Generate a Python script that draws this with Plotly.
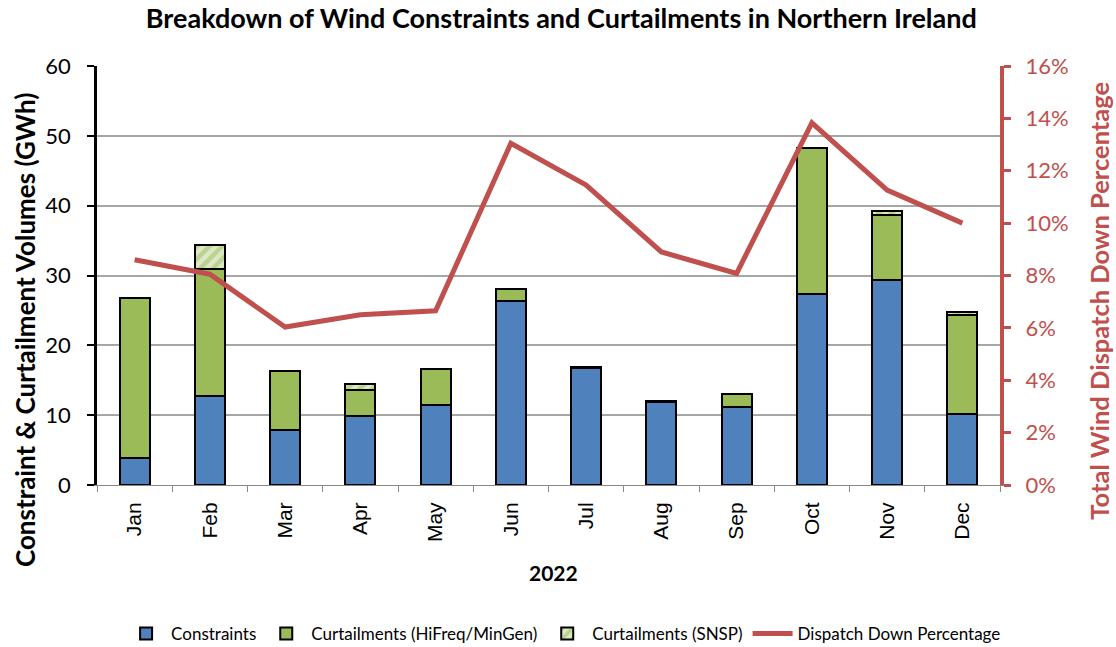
import plotly.graph_objects as go

months = ["Jan", "Feb", "Mar", "Apr", "May", "Jun", "Jul", "Aug", "Sep", "Oct", "Nov", "Dec"]
constraints = [3.9, 12.7, 7.9, 9.9, 11.4, 26.3, 16.7, 11.9, 11.1, 27.4, 29.3, 10.2]
curtail_hifreq = [22.9, 18.2, 8.4, 3.7, 5.2, 1.8, 0.2, 0.2, 1.9, 20.9, 9.3, 14.2]
curtail_snsp = [0.0, 3.5, 0.0, 0.9, 0.0, 0.0, 0.0, 0.0, 0.0, 0.0, 0.7, 0.4]
dispatch_down_pct = [8.6, 8.05, 6.03, 6.5, 6.65, 13.05, 11.45, 8.9, 8.08, 13.83, 11.26, 10.0]

BLUE = "#4F81BD"
GREEN = "#9BBB59"
RED = "#C0504D"
FONT = "Lato"
ARIAL = "Liberation Sans"

fig = go.Figure()
fig.add_trace(go.Bar(
    x=months, y=constraints, name="Constraints",
    marker=dict(color=BLUE, line=dict(color="black", width=2)),
    width=0.4,
))
fig.add_trace(go.Bar(
    x=months, y=curtail_hifreq, name="Curtailments (HiFreq/MinGen)",
    marker=dict(color=GREEN, line=dict(color="black", width=2)),
    width=0.4,
))
fig.add_trace(go.Bar(
    x=months, y=curtail_snsp, name="Curtailments (SNSP)",
    marker=dict(
        color="#DDE9C6",
        line=dict(color="black", width=2),
        pattern=dict(shape="/", fgcolor=GREEN, bgcolor="#DDE9C6", size=9, solidity=0.5),
    ),
    width=0.4,
))
fig.add_trace(go.Scatter(
    x=months, y=dispatch_down_pct, name="Dispatch Down Percentage",
    mode="lines", line=dict(color=RED, width=5), yaxis="y2",
))

# axis titles placed as annotations so they sit where the layout needs them
fig.add_annotation(
    text="<b>Constraint & Curtailment Volumes (GWh)</b>", textangle=-90,
    xref="paper", yref="paper", x=-0.0797, y=0.37, showarrow=False,
    xanchor="center", yanchor="middle", font=dict(size=26, family=FONT, color="black"),
)
fig.add_annotation(
    text="<b>Total Wind Dispatch Down Percentage</b>", textangle=-90,
    xref="paper", yref="paper", x=(1099 - 97) / 903, y=0.44, showarrow=False,
    xanchor="center", yanchor="middle", font=dict(size=25.5, family=FONT, color=RED),
)
fig.add_annotation(
    text="<b>2022</b>",
    xref="paper", yref="paper", x=0.505, y=-0.21, showarrow=False,
    xanchor="center", yanchor="middle", font=dict(size=21, family=FONT, color="black"),
)

fig.update_layout(
    width=1116, height=647,
    barmode="stack",
    paper_bgcolor="white", plot_bgcolor="white",
    margin=dict(l=97, r=116, t=66, b=162),
    font=dict(family=FONT, color="black"),
    title=dict(
        text="<b>Breakdown of Wind Constraints and Curtailments in Northern Ireland</b>",
        x=0.503, xanchor="center", y=0.972, yanchor="middle",
        font=dict(size=27, family=FONT, color="black"),
    ),
    xaxis=dict(
        tickangle=-90, tickfont=dict(size=21, family=ARIAL),
        ticks="outside", tickson="boundaries", ticklen=6, tickcolor="#888888",
        ticklabelstandoff=8,
        showline=True, linecolor="#888888", linewidth=1,
    ),
    yaxis=dict(
        range=[0, 60], dtick=10,
        tickfont=dict(size=22, family=FONT),
        showgrid=True, gridcolor="#A6A6A6", gridwidth=1.5,
        showline=True, linecolor="black", linewidth=2.5,
        ticks="outside", ticklen=7, tickcolor="black", tickwidth=2,
        ticklabelstandoff=12,
        zeroline=False,
    ),
    yaxis2=dict(
        range=[0, 16], dtick=2, overlaying="y", side="right",
        ticksuffix="%", tickfont=dict(size=22, family=FONT, color=RED),
        showgrid=False, zeroline=False,
        showline=True, linecolor=RED, linewidth=4,
        ticks="outside", ticklen=7, tickcolor=RED, tickwidth=3,
        ticklabelstandoff=10,
    ),
    legend=dict(
        orientation="h", xref="container", x=0.505, xanchor="center",
        yref="container", y=0.02, yanchor="middle",
        font=dict(size=17, family=FONT),
        traceorder="normal", itemwidth=40,
    ),
    showlegend=True,
)

fig.write_html("out.html")
